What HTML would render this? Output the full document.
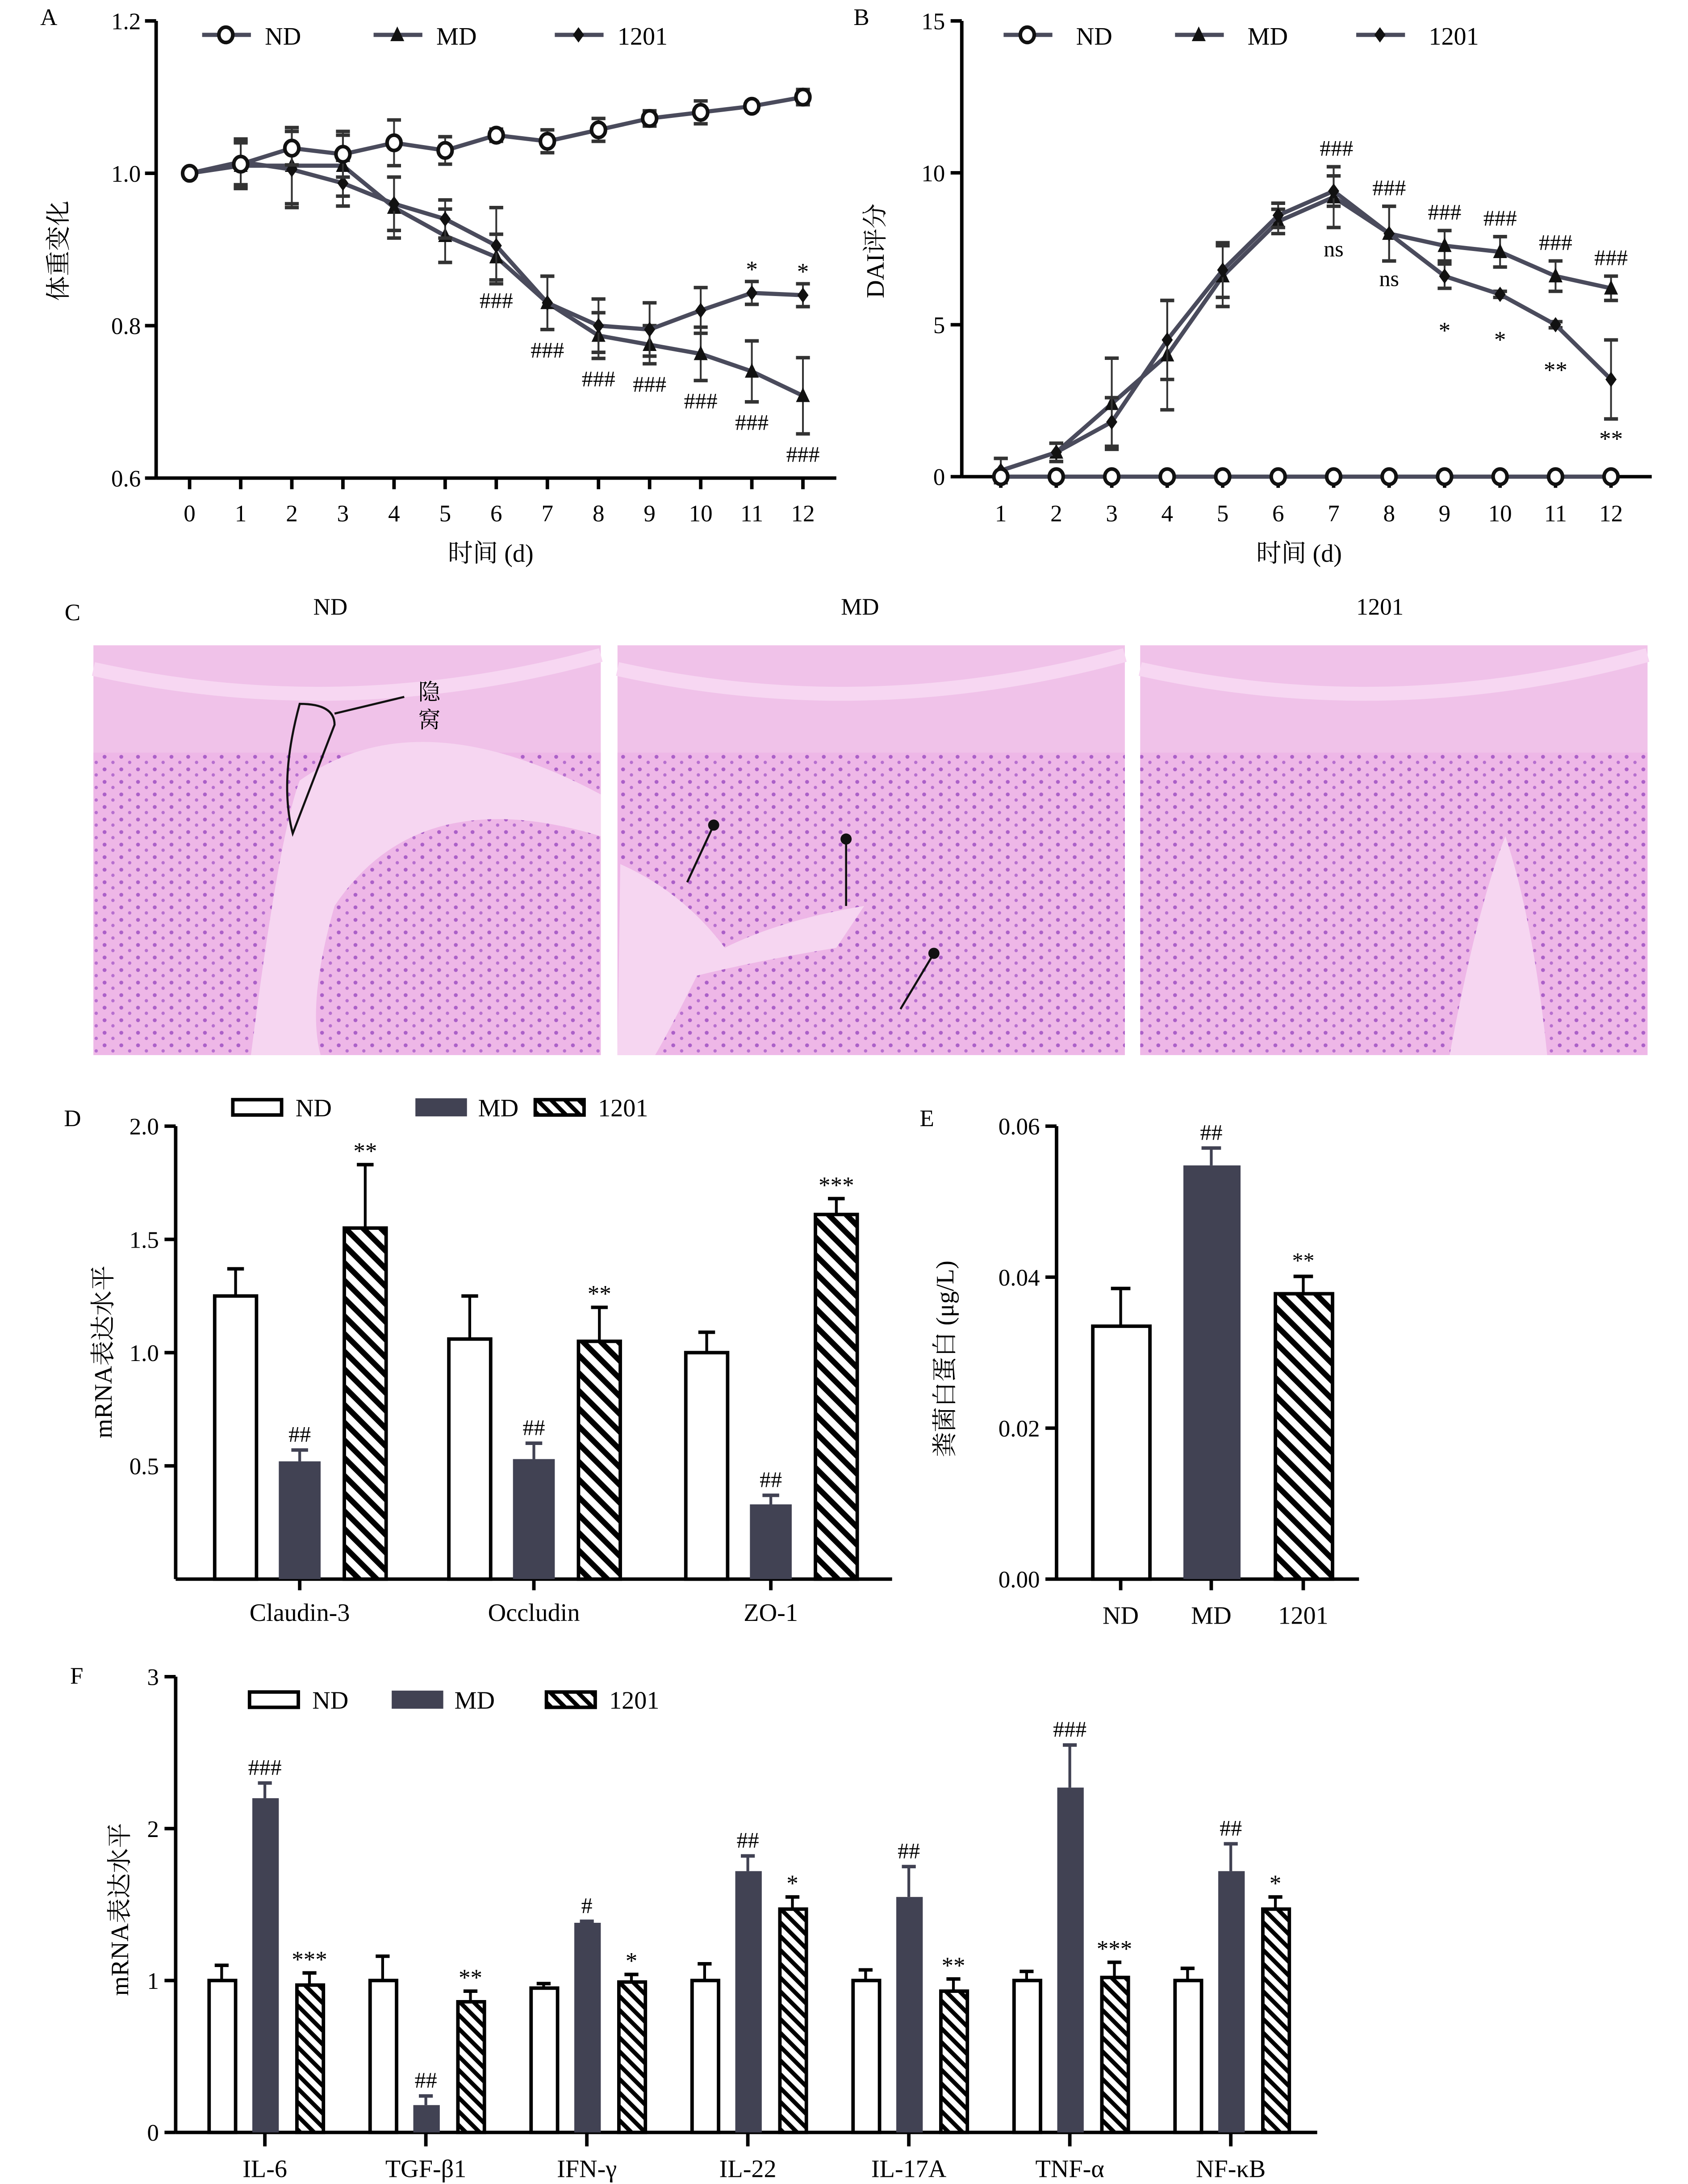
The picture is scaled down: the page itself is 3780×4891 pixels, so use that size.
<!DOCTYPE html>
<html><head><meta charset="utf-8"><style>
html,body{margin:0;padding:0;background:#fff}
svg{display:block}
text{font-family:"Liberation Serif","Noto Serif CJK SC","Noto Sans CJK SC",serif;fill:#000}
</style></head><body>
<svg id="fig" xmlns="http://www.w3.org/2000/svg" width="3780" height="4891" viewBox="0 0 1211 1567">
<defs>
<pattern id="hatch" patternUnits="userSpaceOnUse" width="9" height="9" patternTransform="rotate(-45)"><rect width="9" height="9" fill="#fff"/><rect width="4" height="9" fill="#000"/></pattern>
<pattern id="hatchS" patternUnits="userSpaceOnUse" width="7" height="7" patternTransform="rotate(-45)"><rect width="7" height="7" fill="#fff"/><rect width="3" height="7" fill="#000"/></pattern>
<pattern id="tissue" patternUnits="userSpaceOnUse" width="12" height="9"><rect width="12" height="9" fill="#eeb4e6"/><circle cx="3" cy="3" r="1.4" fill="#9a48c0"/><circle cx="9" cy="7" r="1.2" fill="#a85ac8"/></pattern>
</defs>
<g id="root"></g>
</svg>
<script>
// ---------- DATA ----------
const daysA = [0,1,2,3,4,5,6,7,8,9,10,11,12];
const ndA = [1.0,1.012,1.033,1.025,1.04,1.03,1.05,1.042,1.057,1.072,1.08,1.088,1.1];
const ndAErr = [0.004,0.03,0.022,0.03,0.03,0.018,0.008,0.015,0.015,0.01,0.015,0.006,0.01];
const mdA = [1.0,1.01,1.01,1.01,0.955,0.918,0.89,0.83,0.787,0.775,0.763,0.74,0.708];
const mdAErr = [0.004,0.03,0.05,0.04,0.04,0.035,0.03,0.035,0.03,0.025,0.035,0.04,0.05];
const t1201A = [1.0,1.015,1.005,0.987,0.96,0.94,0.905,0.83,0.8,0.795,0.82,0.843,0.84];
const t1201AErr = [0.004,0.03,0.05,0.03,0.035,0.025,0.05,0.035,0.035,0.035,0.03,0.015,0.015];
const daysB = [1,2,3,4,5,6,7,8,9,10,11,12];
const ndB = [0,0,0,0,0,0,0,0,0,0,0,0];
const mdB = [0.2,0.8,2.4,4.0,6.6,8.4,9.2,8.0,7.6,7.4,6.6,6.2];
const mdBErr = [0.4,0.3,1.5,1.8,1.0,0.4,1.0,0.9,0.5,0.5,0.5,0.4];
const t1201B = [0.2,0.8,1.8,4.5,6.8,8.6,9.4,8.0,6.6,6.0,5.0,3.2];
const t1201BErr = [0.4,0.3,0.8,1.3,0.9,0.4,0.5,0.9,0.4,0.1,0.1,1.3];
const catsD = ["Claudin-3","Occludin","ZO-1"];
const ndD = [1.25,1.06,1.0], ndDErr = [0.12,0.19,0.09];
const mdD = [0.52,0.53,0.33], mdDErr = [0.05,0.07,0.04];
const tD = [1.55,1.05,1.61], tDErr = [0.28,0.15,0.07];
const mdDLab = ["##","##","##"], tDLab = ["**","**","***"];
const catsE = ["ND","MD","1201"];
const valsE = [0.0335,0.0548,0.0378], errE = [0.005,0.0023,0.0023];
const labE = ["","##","**"];
const catsF = ["IL-6","TGF-β1","IFN-γ","IL-22","IL-17A","TNF-α","NF-κB"];
const ndF = [1,1,0.95,1,1,1,1], ndFErr = [0.1,0.16,0.03,0.11,0.07,0.06,0.08];
const mdF = [2.2,0.18,1.38,1.72,1.55,2.27,1.72], mdFErr = [0.1,0.06,0.01,0.1,0.2,0.28,0.18];
const tF = [0.97,0.86,0.99,1.47,0.93,1.02,1.47], tFErr = [0.08,0.07,0.05,0.08,0.08,0.1,0.08];
const mdFLab = ["###","##","#","##","##","###","##"], tFLab = ["***","**","*","*","**","***","*"];
const ticksA = [0.6,0.8,1.0,1.2], ticksB = [0,5,10,15], ticksD = [0.5,1.0,1.5,2.0], ticksE = [0.00,0.02,0.04,0.06], ticksF = [0,1,2,3];

// ---------- HELPERS ----------
const NS="http://www.w3.org/2000/svg", root=document.getElementById('root');
function mk(tag,at,parent){const e=document.createElementNS(NS,tag);for(const k in at)e.setAttribute(k,at[k]);(parent||root).appendChild(e);return e;}
function txt(s,x,y,size,anchor,parent,extra){const t=mk('text',Object.assign({x:x,y:y,'font-size':size,'text-anchor':anchor||'middle'},extra||{}),parent);t.textContent=s;return t;}
const LINE="#4a4b5c", DARK="#414253";

function group(name){const g=mk('g',{});return g;}

function marker(g,type,x,y){
  let m;
  if(type==='o') m=mk('ellipse',{cx:x,cy:y,rx:5,ry:5.5,fill:'#fff',stroke:'#111','stroke-width':2.6},g);
  else if(type==='t') m=mk('polygon',{points:`${x},${y-6} ${x-5},${y+4.5} ${x+5},${y+4.5}`,fill:'#111'},g);
  else m=mk('polygon',{points:`${x},${y-5.5} ${x+4},${y} ${x},${y+5.5} ${x-4},${y}`,fill:'#111'},g);
  return m;
}
function errbar(g,x,y0,y1,cap,color,w){mk('line',{x1:x,y1:y0,x2:x,y2:y1,stroke:color,'stroke-width':w||1.5},g);mk('line',{x1:x-cap,y1:y1,x2:x+cap,y2:y1,stroke:color,'stroke-width':2.5},g);}

// ---------- PANEL A ----------
(function(){
  const g=group('panel-a-weight-chart');
  const x=d=>136+d*36.67, y=v=>343-(v-0.6)/0.6*328;
  mk('line',{x1:112,y1:15,x2:112,y2:343,stroke:'#000','stroke-width':2.5},g);
  mk('line',{x1:112,y1:343,x2:600,y2:343,stroke:'#000','stroke-width':2.5},g);
  ticksA.forEach(t=>{mk('line',{x1:104,y1:y(t),x2:112,y2:y(t),stroke:'#000','stroke-width':2.5},g);const l=txt(t.toFixed(1),101,y(t)+6,17,'end',g);});
  daysA.forEach(d=>{mk('line',{x1:x(d),y1:343,x2:x(d),y2:351,stroke:'#000','stroke-width':2.5},g);txt(String(d),x(d),374,17,'middle',g);});
  const yt=txt('体重变化',48,180,18,'middle',g,{transform:'rotate(-90 48 180)'});
  const xt=txt('时间 (d)',352,403,18,'middle',g);
  txt('A',35,18,17,'middle',g);
  [[mdA,mdAErr,'t'],[t1201A,t1201AErr,'d'],[ndA,ndAErr,'o']].forEach(([v,e,m])=>{
    v.forEach((val,i)=>{errbar(g,x(daysA[i]),y(val-e[i]),y(val+e[i]),5,'#333',1.3);mk('line',{x1:x(daysA[i])-5,y1:y(val-e[i]),x2:x(daysA[i])+5,y2:y(val-e[i]),stroke:'#333','stroke-width':2.5},g);});
    const s=mk('polyline',{points:v.map((val,i)=>x(daysA[i])+','+y(val)).join(' '),fill:'none',stroke:LINE,'stroke-width':3},g);
    
    v.forEach((val,i)=>marker(g,m,x(daysA[i]),y(val)));
  });
  for(let i=6;i<=12;i++) txt('###',x(i),y(mdA[i]-mdAErr[i])+20,16,'middle',g);
  [11,12].forEach(i=>txt('*',x(i),y(t1201A[i]+t1201AErr[i])-3,17,'middle',g));
  const lg=group('legend-a');
  [['o','ND',145],['t','MD',268],['d','1201',398]].forEach(([m,l,lx])=>{
    mk('line',{x1:lx,y1:25,x2:lx+35,y2:25,stroke:LINE,'stroke-width':3},lg);marker(lg,m,lx+17,25);txt(l,lx+45,32,18,'start',lg);
  });
})();

// ---------- PANEL B ----------
(function(){
  const g=group('panel-b-dai-chart');
  const x=d=>718+(d-1)*39.8, y=v=>342-v/15*327;
  mk('line',{x1:690,y1:15,x2:690,y2:342,stroke:'#000','stroke-width':2.5},g);
  mk('line',{x1:690,y1:342,x2:1185,y2:342,stroke:'#000','stroke-width':2.5},g);
  ticksB.forEach(t=>{mk('line',{x1:682,y1:y(t),x2:690,y2:y(t),stroke:'#000','stroke-width':2.5},g);txt(String(t),678,y(t)+6,17,'end',g);});
  daysB.forEach(d=>{mk('line',{x1:x(d),y1:342,x2:x(d),y2:350,stroke:'#000','stroke-width':2.5},g);txt(String(d),x(d),374,17,'middle',g);});
  const yt=txt('DAI评分',634,180,18,'middle',g,{transform:'rotate(-90 634 180)'});
  txt('时间 (d)',932,403,18,'middle',g);
  txt('B',618,18,17,'middle',g);
  [[mdB,mdBErr,'t'],[t1201B,t1201BErr,'d'],[ndB,ndB.map(()=>0),'o']].forEach(([v,e,m])=>{
    v.forEach((val,i)=>{if(e[i]>0){errbar(g,x(daysB[i]),y(val-e[i]),y(val+e[i]),5,'#333',1.3);mk('line',{x1:x(daysB[i])-5,y1:y(val-e[i]),x2:x(daysB[i])+5,y2:y(val-e[i]),stroke:'#333','stroke-width':2.5},g);}});
    mk('polyline',{points:v.map((val,i)=>x(daysB[i])+','+y(val)).join(' '),fill:'none',stroke:LINE,'stroke-width':3},g);
    v.forEach((val,i)=>marker(g,m,x(daysB[i]),y(val)));
  });
  for(let i=6;i<12;i++) txt('###',x(daysB[i])+(i==6?2:0),y(mdB[i]+mdBErr[i])-8,16,'middle',g);
  txt('ns',x(7),y(t1201B[6]-t1201BErr[6])+36,16,'middle',g);
  txt('ns',x(8),y(t1201B[7]-t1201BErr[7])+18,16,'middle',g);
  [['*',9],['*',10],['**',11],['**',12]].forEach(([s,d])=>txt(s,x(d),y(t1201B[d-1]-t1201BErr[d-1])+(d==12?20:36),17,'middle',g));
  const lg=group('legend-b');
  [['o','ND',720],['t','MD',843],['d','1201',973]].forEach(([m,l,lx])=>{
    mk('line',{x1:lx,y1:25,x2:lx+35,y2:25,stroke:LINE,'stroke-width':3},lg);marker(lg,m,lx+17,25);txt(l,lx+52,32,18,'start',lg);
  });
})();

// ---------- PANEL C (histology) ----------
(function(){
  const g=group('panel-c-histology');
  txt('C',52,445,17,'middle',g);
  [['ND',67,237],['MD',443,617],['1201',818,990]].forEach(([l,x0,tx])=>{
    txt(l,tx,441,17,'middle',g);
    const im=mk('rect',{x:x0,y:463,width:364,height:294,fill:'#f0c2e9'},g);
    
    mk('rect',{x:x0,y:540,width:364,height:217,fill:'url(#tissue)',opacity:0.8},g);
    mk('path',{d:`M${x0} ${480} Q${x0+180} ${520} ${x0+364} ${470}`,stroke:'#f7d7f2','stroke-width':10,fill:'none'},g);
  });
  mk('path',{d:'M180 757 Q200 600 215 560 Q300 500 431 570 L431 600 Q300 560 240 650 Q220 720 230 757Z',fill:'#f6d6f1'},g);
  mk('path',{d:'M215 505 Q240 505 240 520 L210 598 Q200 560 215 505Z',fill:'none',stroke:'#111','stroke-width':1.5},g);
  mk('line',{x1:240,y1:512,x2:290,y2:500,stroke:'#111','stroke-width':1.5},g);
  txt('隐',308,502,16,'middle',g);txt('窝',308,522,16,'middle',g);
  mk('path',{d:'M445 620 Q490 640 520 680 Q560 660 620 650 L600 680 Q540 690 500 700 Q480 740 470 757 L443 757Z',fill:'#f6d6f1'},g);
  mk('path',{d:'M1040 757 Q1060 650 1080 600 Q1100 660 1110 757Z',fill:'#f6d6f1'},g);
  [[493,633,512,592],[607,650,607,602],[646,724,670,684]].forEach(a=>{mk('line',{x1:a[0],y1:a[1],x2:a[2],y2:a[3],stroke:'#111','stroke-width':1.5},g);mk('circle',{cx:a[2],cy:a[3],r:4,fill:'#111'},g);});
})();

// ---------- BAR HELPERS ----------
function bar(g,x,w,yTop,yBase,kind,name){
  const fill=kind==='nd'?'#fff':kind==='md'?DARK:(w<25?'url(#hatchS)':'url(#hatch)');
  const r=mk('rect',{x:x,y:yTop,width:w,height:yBase-yTop,fill:fill,stroke:kind==='md'?DARK:'#000','stroke-width':kind==='md'?0:2.5},g);
  
}
function legendBars(g,x0,y0,pos){
  [['nd','ND'],['md','MD'],['t','1201']].forEach(([k,l],i)=>{
    const lx=pos[i];
    if(k==='md') mk('rect',{x:lx,y:y0-6,width:37,height:13,fill:DARK},g);
    else mk('rect',{x:lx,y:y0-5,width:35,height:11,fill:k==='nd'?'#fff':'url(#hatchS)',stroke:'#000','stroke-width':2.5},g);
    txt(l,lx+45,y0+7,18,'start',g);
  });
}

// ---------- PANEL D ----------
(function(){
  const g=group('panel-d-tight-junction');
  const y=v=>1133-v/2*325, base=1133;
  mk('line',{x1:126,y1:808,x2:126,y2:1133,stroke:'#000','stroke-width':2.5},g);
  mk('line',{x1:126,y1:1133,x2:640,y2:1133,stroke:'#000','stroke-width':2.5},g);
  ticksD.forEach(t=>{mk('line',{x1:118,y1:y(t),x2:126,y2:y(t),stroke:'#000','stroke-width':2.5},g);txt(t.toFixed(1),114,y(t)+6,17,'end',g);});
  txt('D',52,808,17,'middle',g);
  const yt=txt('mRNA表达水平',80,970,18,'middle',g,{transform:'rotate(-90 80 970)'});
  const gx=[215,383,553];
  catsD.forEach((c,i)=>{
    const cx=gx[i];
    [[ndD,ndDErr,'nd',-46],[mdD,mdDErr,'md',0],[tD,tDErr,'t',47]].forEach(([v,e,k,off])=>{
      const bx=cx+off-15;
      errbar(g,cx+off,y(v[i]),y(v[i]+e[i]),6,k==='md'?DARK:'#000',2);
      bar(g,bx,30,y(v[i]),base,k,'bar-'+k+'-'+c.toLowerCase());
    });
    txt(mdDLab[i],cx,y(mdD[i]+mdDErr[i])-6,16,'middle',g);
    txt(tDLab[i],cx+47,y(tD[i]+tDErr[i])-4,17,'middle',g);
    mk('line',{x1:cx,y1:1133,x2:cx,y2:1141,stroke:'#000','stroke-width':2.5},g);
    txt(c,cx,1163,18,'middle',g);
  });
  legendBars(group('legend-d'),0,794,[167,298,384]);
})();

// ---------- PANEL E ----------
(function(){
  const g=group('panel-e-fecal-protein');
  const y=v=>1133-v/0.06*325;
  mk('line',{x1:758,y1:808,x2:758,y2:1133,stroke:'#000','stroke-width':2.5},g);
  mk('line',{x1:758,y1:1133,x2:975,y2:1133,stroke:'#000','stroke-width':2.5},g);
  ticksE.forEach(t=>{mk('line',{x1:750,y1:y(t),x2:758,y2:y(t),stroke:'#000','stroke-width':2.5},g);txt(t.toFixed(2),746,y(t)+6,17,'end',g);});
  txt('E',665,808,17,'middle',g);
  const yt=txt('粪菌白蛋白 (μg/L)',684,975,18,'middle',g,{transform:'rotate(-90 684 975)'});
  const cx=[804,869,935], k=['nd','md','t'];
  catsE.forEach((c,i)=>{
    errbar(g,cx[i],y(valsE[i]),y(valsE[i]+errE[i]),7,k[i]==='md'?DARK:'#000',2);
    bar(g,cx[i]-20,41,y(valsE[i]),1133,k[i],'bar-'+c.toLowerCase());
    if(labE[i]) txt(labE[i],cx[i],y(valsE[i]+errE[i])-6,16,'middle',g);
    mk('line',{x1:cx[i],y1:1133,x2:cx[i],y2:1141,stroke:'#000','stroke-width':2.5},g);
    txt(c,cx[i],1165,18,'middle',g);
  });
})();

// ---------- PANEL F ----------
(function(){
  const g=group('panel-f-cytokines');
  const y=v=>1530-v/3*327;
  mk('line',{x1:126,y1:1203,x2:126,y2:1530,stroke:'#000','stroke-width':2.5},g);
  mk('line',{x1:126,y1:1530,x2:945,y2:1530,stroke:'#000','stroke-width':2.5},g);
  ticksF.forEach(t=>{mk('line',{x1:118,y1:y(t),x2:126,y2:y(t),stroke:'#000','stroke-width':2.5},g);txt(String(t),114,y(t)+6,17,'end',g);});
  txt('F',55,1208,17,'middle',g);
  const yt=txt('mRNA表达水平',92,1370,18,'middle',g,{transform:'rotate(-90 92 1370)'});
  catsF.forEach((c,i)=>{
    const cx=190+i*115.5;
    [[ndF,ndFErr,'nd',-31],[mdF,mdFErr,'md',0],[tF,tFErr,'t',32]].forEach(([v,e,k,off])=>{
      errbar(g,cx+off,y(v[i]),y(v[i]+e[i]),5,k==='md'?DARK:'#000',2);
      bar(g,cx+off-9,19,y(v[i]),1530,k,'bar-'+k+'-'+c.toLowerCase());
    });
    txt(mdFLab[i],cx,y(mdF[i]+mdFErr[i])-6,16,'middle',g);
    txt(tFLab[i],cx+32,y(tF[i]+tFErr[i])-4,17,'middle',g);
    mk('line',{x1:cx,y1:1530,x2:cx,y2:1540,stroke:'#000','stroke-width':2.5},g);
    txt(c,cx,1562,18,'middle',g);
  });
  legendBars(group('legend-f'),0,1219,[179,281,392]);
})();
</script>
</body></html>
